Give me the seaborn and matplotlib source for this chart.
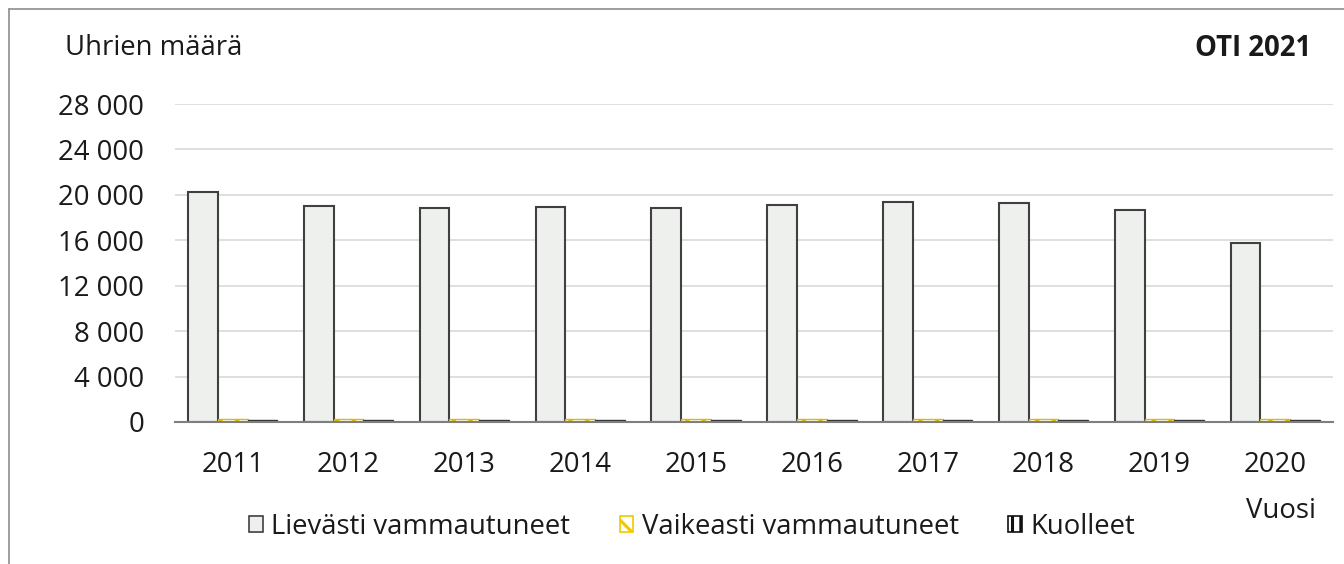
import matplotlib
matplotlib.use("Agg")
import matplotlib.pyplot as plt
from matplotlib.patches import Patch
from matplotlib.lines import Line2D
import seaborn as sns
import pandas as pd

years = ["2011", "2012", "2013", "2014", "2015", "2016", "2017", "2018", "2019", "2020"]
lievasti = [20290, 19060, 18800, 18940, 18850, 19150, 19330, 19320, 18650, 15790]
vaikeasti = [290, 280, 280, 280, 290, 280, 280, 290, 270, 270]
kuolleet = [200, 180, 180, 170, 190, 180, 170, 180, 160, 170]
series = ["Lievästi vammautuneet", "Vaikeasti vammautuneet", "Kuolleet"]
yticks = [0, 4000, 8000, 12000, 16000, 20000, 24000, 28000]
ytick_labels = ["0", "4 000", "8 000", "12 000", "16 000", "20 000", "24 000", "28 000"]

rows = []
for i, y in enumerate(years):
    rows.append((y, series[0], lievasti[i]))
    rows.append((y, series[1], vaikeasti[i]))
    rows.append((y, series[2], kuolleet[i]))
df = pd.DataFrame(rows, columns=["Vuosi", "Sarja", "Uhrit"])

sns.set_theme(style="white")
plt.rcParams['font.family'] = ['Open Sans', 'DejaVu Sans']
plt.rcParams['hatch.linewidth'] = 2.2
FS = 19.8
TXT = "#1a1a1a"

fig = plt.figure(figsize=(13.44, 5.64), dpi=100)
ax = fig.add_axes([0.130, 0.2518, 0.862, 0.5638])

palette = {series[0]: "#EEF0EE", series[1]: "#FFFFFF", series[2]: "#FFFFFF"}
sns.barplot(data=df, x="Vuosi", y="Uhrit", hue="Sarja", hue_order=series,
            palette=palette, width=0.77, ax=ax, legend=False, saturation=1)

styles = [
    dict(facecolor="#EEF0EE", edgecolor="#404040", hatch=None, lw=1.5),
    dict(facecolor="#FFFFFF", edgecolor="#E0B800", hatch="\\\\", lw=1.0),
    dict(facecolor="#FFFFFF", edgecolor="#333333", hatch="||", lw=1.0),
]
for cont, st in zip(ax.containers, styles):
    for p in cont.patches:
        p.set_facecolor(st["facecolor"])
        p.set_edgecolor(st["edgecolor"])
        p.set_linewidth(st["lw"])
        if st["hatch"]:
            p.set_hatch(st["hatch"])

ax.set_ylim(0, 28000)
ax.set_yticks(yticks)
ax.set_yticklabels(ytick_labels, fontsize=FS, color=TXT)
ax.tick_params(axis="y", length=0, pad=22)
ax.tick_params(axis="x", length=0, pad=21, labelsize=FS, labelcolor=TXT)
ax.yaxis.grid(True, color="#D9D9D9", linewidth=1.2)
ax.set_axisbelow(True)
for s in ["left", "right", "top"]:
    ax.spines[s].set_visible(False)
ax.spines["bottom"].set_color("#7F7F7F")
ax.spines["bottom"].set_linewidth(1.5)
ax.set_xlabel("")
ax.set_ylabel("")

fig.text(65 / 1344, 1 - 48 / 564, "Uhrien määrä", fontsize=FS, color=TXT, va="center", ha="left")
fig.text(1311 / 1344, 1 - 48 / 564, "OTI 2021", fontsize=FS, color=TXT, va="center", ha="right",
         fontweight="bold")
fig.text(1281 / 1344, 1 - 511 / 564, "Vuosi", fontsize=FS, color=TXT, va="center", ha="center")

handles = [
    Patch(facecolor="#EEF0EE", edgecolor="#404040", linewidth=1.2),
    Patch(facecolor="#FFFFFF", edgecolor="#F0C800", hatch="\\", linewidth=1.2),
    Patch(facecolor="#FFFFFF", edgecolor="#111111", hatch="||", linewidth=1.2),
]
leg = fig.legend(handles, series, loc="center", bbox_to_anchor=(692 / 1344, 1 - 527 / 564),
                 ncol=3, frameon=False, fontsize=FS, handlelength=0.5, handleheight=0.5,
                 handletextpad=0.3, columnspacing=1.8, labelcolor=TXT)

# outer frame (left and top edges visible)
fig.add_artist(Line2D([9 / 1344, 9 / 1344], [0, 1 - 9 / 564], transform=fig.transFigure,
                      color="#8C8C8C", linewidth=1.2))
fig.add_artist(Line2D([9 / 1344, 1], [1 - 9 / 564, 1 - 9 / 564], transform=fig.transFigure,
                      color="#8C8C8C", linewidth=1.2))

fig.savefig("out.png", dpi=100)
